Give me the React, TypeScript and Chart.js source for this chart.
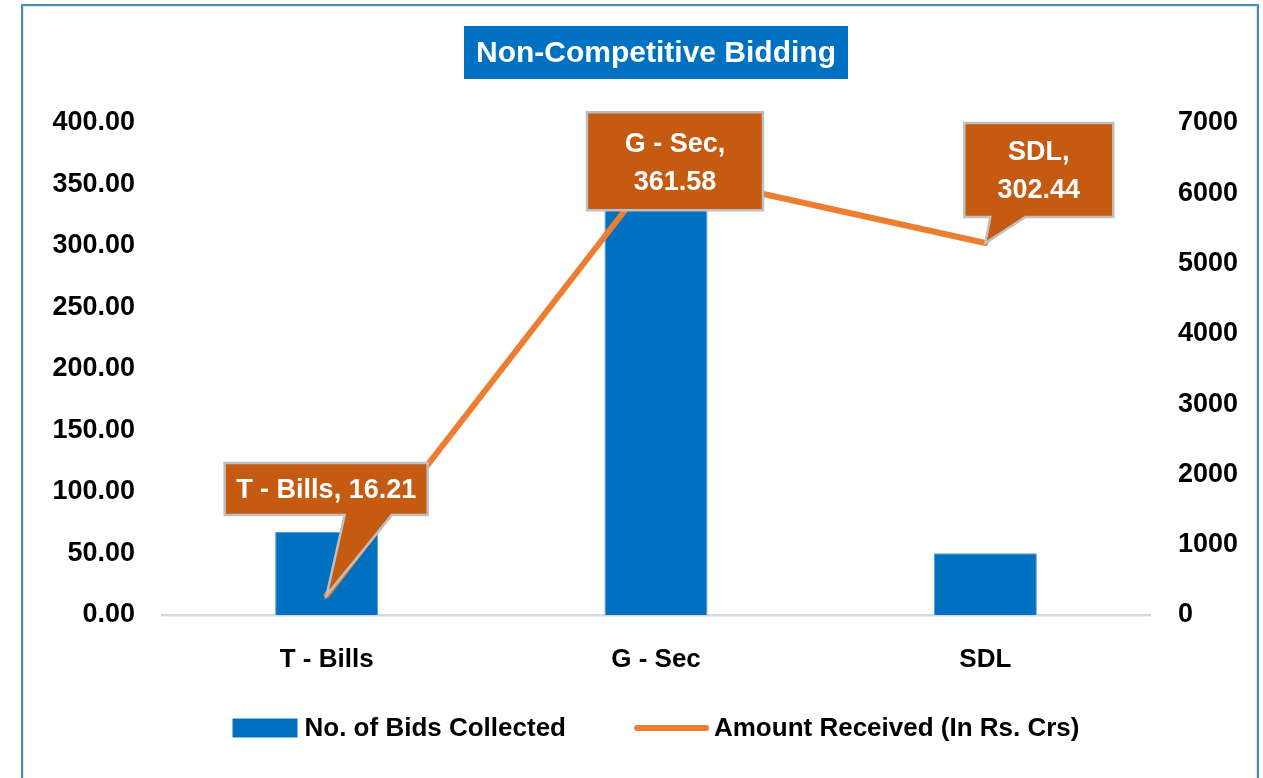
import React, { useEffect, useRef } from "react";
import { Chart, registerables } from "chart.js";

Chart.register(...registerables);

// ---------- data ----------
const categories = ["T - Bills", "G - Sec", "SDL"];
const bidsCollected = [1180, 6000, 880];
const amountReceived = [16.21, 361.58, 302.44];
const seriesNames = ["No. of Bids Collected", "Amount Received (In Rs. Crs)"];
const chartTitle = "Non-Competitive Bidding";
const leftAxisRange = [0, 400, 50];
const rightAxisRange = [0, 7000, 1000];

// ---------- style ----------
const FONT = '"Liberation Sans", Arial, sans-serif';
const BLUE = "#0070C0";
const ORANGE = "#ED7D31";
const CALLOUT = "#C55A11";

// callout box placement relative to its data point (style only)
const calloutStyle = [
  { dx: -0.5, dy: -106, w: 203, h: 52, wrap: false, tail: [18.5, 65.5] },
  { dx: 19, dy: -9, w: 176, h: 98, wrap: true, tail: null },
  { dx: 53.5, dy: -73, w: 149, h: 94, wrap: true, tail: [-48.5, -13.5] },
];

const titlePlugin = {
  id: "boxTitle",
  afterDraw(chart: any) {
    const { ctx, chartArea } = chart;
    ctx.save();
    ctx.font = `bold 30px ${FONT}`;
    const tw = ctx.measureText(chartTitle).width;
    const cx = (chartArea.left + chartArea.right) / 2;
    const w = tw + 24;
    const top = 26;
    const h = 53;
    ctx.fillStyle = BLUE;
    ctx.fillRect(cx - w / 2, top, w, h);
    ctx.fillStyle = "#FFFFFF";
    ctx.textAlign = "center";
    ctx.textBaseline = "middle";
    ctx.fillText(chartTitle, cx, top + h / 2 + 1);
    ctx.restore();
  },
};

const calloutPlugin = {
  id: "callouts",
  afterDatasetsDraw(chart: any) {
    const { ctx } = chart;
    const meta = chart.getDatasetMeta(1);
    ctx.save();
    meta.data.forEach((pt: any, i: number) => {
      const st = calloutStyle[i];
      if (!st) return;
      const px = pt.x;
      const py = pt.y;
      const cx = px + st.dx;
      const cy = py + st.dy;
      const l = cx - st.w / 2;
      const r = cx + st.w / 2;
      const t = cy - st.h / 2;
      const b = cy + st.h / 2;
      ctx.beginPath();
      ctx.moveTo(l, t);
      ctx.lineTo(r, t);
      ctx.lineTo(r, b);
      if (st.tail) {
        ctx.lineTo(cx + st.tail[1], b);
        ctx.lineTo(px, py);
        ctx.lineTo(cx + st.tail[0], b);
      }
      ctx.lineTo(l, b);
      ctx.closePath();
      ctx.fillStyle = CALLOUT;
      ctx.fill();
      ctx.lineWidth = 2.5;
      ctx.strokeStyle = "#BFBFBF";
      ctx.lineJoin = "miter";
      ctx.stroke();

      const val = amountReceived[i].toFixed(2);
      const cat = categories[i];
      ctx.fillStyle = "#FFFFFF";
      ctx.font = `bold 27px ${FONT}`;
      ctx.textAlign = "center";
      ctx.textBaseline = "middle";
      if (st.wrap) {
        ctx.fillText(`${cat},`, cx, cy - 17);
        ctx.fillText(val, cx, cy + 21);
      } else {
        ctx.fillText(`${cat}, ${val}`, cx, cy + 1);
      }
    });
    ctx.restore();
  },
};

const legendPlugin = {
  id: "customLegend",
  afterDraw(chart: any) {
    const { ctx, chartArea } = chart;
    ctx.save();
    ctx.font = `bold 26px ${FONT}`;
    const t1 = ctx.measureText(seriesNames[0]).width;
    const t2 = ctx.measureText(seriesNames[1]).width;
    const sw1 = 65, g1 = 7, sw2 = 75, g2 = 5, gap = 68;
    const total = sw1 + g1 + t1 + gap + sw2 + g2 + t2;
    let x = (chartArea.left + chartArea.right) / 2 - total / 2;
    const y = 728;
    ctx.fillStyle = BLUE;
    ctx.fillRect(x, y - 9.5, sw1, 19);
    x += sw1 + g1;
    ctx.fillStyle = "#000000";
    ctx.textAlign = "left";
    ctx.textBaseline = "middle";
    ctx.fillText(seriesNames[0], x, y + 1);
    x += t1 + gap;
    ctx.strokeStyle = ORANGE;
    ctx.lineWidth = 6;
    ctx.lineCap = "round";
    ctx.beginPath();
    ctx.moveTo(x + 3, y);
    ctx.lineTo(x + sw2 - 3, y);
    ctx.stroke();
    x += sw2 + g2;
    ctx.fillText(seriesNames[1], x, y + 1);
    ctx.restore();
  },
};

export default function App() {
  const ref = useRef<HTMLCanvasElement | null>(null);

  useEffect(() => {
    if (!ref.current) return;
    const tickFont = { family: FONT, size: 27, weight: "bold" as const };
    const chart = new Chart(ref.current, {
      type: "bar",
      data: {
        labels: categories,
        datasets: [
          {
            type: "bar",
            label: seriesNames[0],
            data: bidsCollected,
            backgroundColor: BLUE,
            borderColor: "#5B9BD5",
            borderWidth: 1,
            yAxisID: "y1",
            barPercentage: 0.313,
            categoryPercentage: 1,
            order: 1,
          },
          {
            type: "line",
            label: seriesNames[1],
            data: amountReceived,
            borderColor: ORANGE,
            borderWidth: 6,
            borderCapStyle: "round",
            borderJoinStyle: "round",
            pointRadius: 0,
            tension: 0,
            yAxisID: "y",
            order: 0,
          },
        ],
      },
      options: {
        animation: false,
        responsive: true,
        maintainAspectRatio: false,
        layout: { padding: { top: 123, left: 0, right: 0, bottom: 0 } },
        plugins: {
          legend: { display: false },
          title: { display: false },
          tooltip: { enabled: false },
        },
        scales: {
          x: {
            grid: { display: false, drawTicks: false },
            border: { display: true, color: "#D9D9D9", width: 2.5 },
            ticks: {
              color: "#000000",
              font: { family: FONT, size: 26, weight: "bold" },
              padding: 29,
              maxRotation: 0,
            },
            afterFit: (s: any) => {
              s.height = 163;
            },
          },
          y: {
            position: "left",
            min: leftAxisRange[0],
            max: leftAxisRange[1],
            grid: { display: false, drawTicks: false },
            border: { display: false },
            ticks: {
              stepSize: leftAxisRange[2],
              color: "#000000",
              font: tickFont,
              padding: 27,
              callback: (v: any) => Number(v).toFixed(2),
            },
            afterFit: (s: any) => {
              s.width = 162;
            },
          },
          y1: {
            position: "right",
            min: rightAxisRange[0],
            max: rightAxisRange[1],
            grid: { display: false, drawTicks: false },
            border: { display: false },
            ticks: {
              stepSize: rightAxisRange[2],
              color: "#000000",
              font: tickFont,
              padding: 28,
              callback: (v: any) => String(Math.round(Number(v))),
            },
            afterFit: (s: any) => {
              s.width = 113;
            },
          },
        },
      },
      plugins: [titlePlugin, calloutPlugin, legendPlugin],
    } as any);
    return () => chart.destroy();
  }, []);

  return (
    <div
      style={{
        position: "absolute",
        left: 0,
        top: 0,
        width: 1263,
        height: 778,
        background: "#FFFFFF",
        overflow: "hidden",
      }}
    >
      <div
        style={{
          position: "absolute",
          left: 21,
          top: 4,
          width: 1234,
          height: 820,
          border: "2px solid #4A93AE",
          boxShadow: "inset 0 0 0 1px #E3E3E3",
        }}
      />
      <div style={{ position: "absolute", left: 0, top: 0, width: 1263, height: 778 }}>
        <canvas ref={ref} />
      </div>
    </div>
  );
}
